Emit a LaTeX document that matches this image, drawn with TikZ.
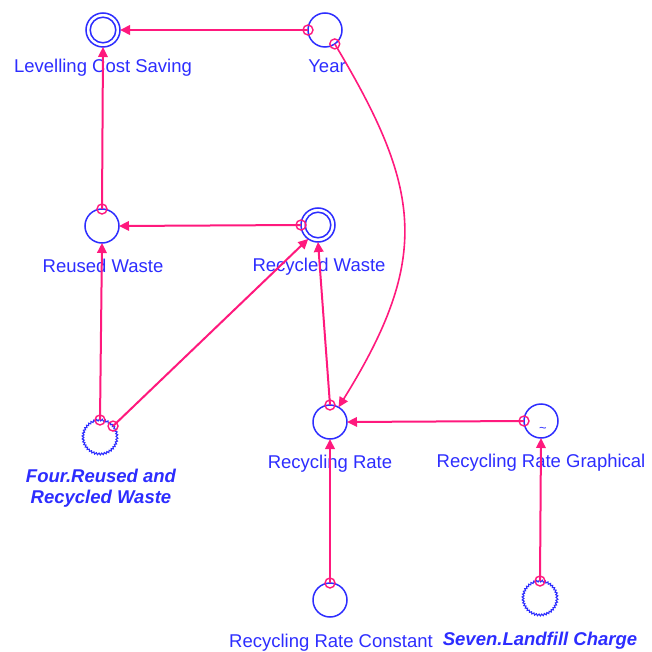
\documentclass[tikz,border=0pt]{standalone}
\usepackage{fontspec}
\setmainfont{Liberation Sans}
\usetikzlibrary{arrows.meta,decorations.pathmorphing}
\definecolor{varblue}{RGB}{45,45,255}
\definecolor{linkpink}{RGB}{255,25,125}

\begin{document}
\begin{tikzpicture}[x=1pt,y=-1pt,
  var/.style={circle,draw=varblue,line width=1.5pt,minimum size=34pt,inner sep=0pt,outer sep=0pt},
  stockvar/.style={var,path picture={\draw[varblue,line width=1.5pt] (path picture bounding box.center) circle (12.8pt);}},
  ghost/.style={circle,minimum size=34pt,inner sep=0pt,outer sep=0pt},
  ghostline/.style={varblue,line width=1.1pt,decorate,decoration={zigzag,segment length=2.8pt,amplitude=0.9pt}},
  lbl/.style={text=varblue,font=\fontsize{18.5}{21.5}\selectfont,anchor=base,inner sep=0pt},
  glbl/.style={lbl,font=\fontsize{18.5}{21.5}\selectfont\bfseries\itshape},
  link/.style={linkpink,line width=2pt,-{Triangle[length=10pt,width=9.5pt]}},
  tap/.style={circle,draw=linkpink,line width=1.4pt,minimum size=10pt,inner sep=0pt},
]
\fill[white] (0,0) rectangle (651,652);
\useasboundingbox (0,0) rectangle (651,652);

% variables
\node[stockvar] (lcs) at (103,30) {};
\node[var] (yr) at (325,30) {};
\node[var] (ru) at (102,226) {};
\node[stockvar] (rc) at (318,225) {};
\node[ghost] (four) at (100,437) {};
\draw[ghostline] (four.center) circle (17pt);
\node[var] (rr) at (330,422) {};
\node[var] (rrg) at (541,421) {};
\node[text=varblue,font=\fontsize{13}{13}\selectfont,inner sep=0pt] (rrgmark) at (543,430) {\textasciitilde};
\node[var] (rrc) at (330,600) {};
\node[ghost] (seven) at (540,598) {};
\draw[ghostline] (seven.center) circle (17pt);

% labels
\node[lbl] (lcslbl) at (103,73) {Levelling Cost Saving};
\node[lbl] (yrlbl) at (327,73) {Year};
\node[lbl] (rulbl) at (103,272) {Reused Waste};
\node[lbl] (rclbl) at (319,271) {Recycled Waste};
\node[glbl] (fourlbla) at (101,482) {Four.Reused and};
\node[glbl] (fourlblb) at (101,503) {Recycled Waste};
\node[lbl] (rrlbl) at (330,468) {Recycling Rate};
\node[lbl] (rrglbl) at (541,467) {Recycling Rate Graphical};
\node[lbl] (rrclbl) at (331,647) {Recycling Rate Constant};
\node[glbl] (sevenlbl) at (540,645) {Seven.Landfill Charge};

% links
\draw[link] (yr.west) -- (lcs.east);
\draw[link] (ru.north) -- (lcs.south);
\draw[link] (rc.west) -- (ru.east);
\draw[link] (four.north) -- (ru.south);
\draw[link] (four.40) -- (rc.235);
\draw[link] (rr.north) -- (rc.south);
\draw[link,line width=1.6pt] (yr.-55) .. controls (421,188) and (432,257) .. (rr.60);
\draw[link] (rrg.west) -- (rr.east);
\draw[link] (rrc.north) -- (rr.south);
\draw[link] (seven.north) -- (rrg.south);

% link origins
\node[tap] at (yr.west) {};
\node[tap] at (ru.north) {};
\node[tap] at (rc.west) {};
\node[tap] at (four.north) {};
\node[tap] at (four.40) {};
\node[tap] at (rr.north) {};
\node[tap] at (yr.-55) {};
\node[tap] at (rrg.west) {};
\node[tap] at (rrc.north) {};
\node[tap] at (seven.north) {};
\end{tikzpicture}
\end{document}
